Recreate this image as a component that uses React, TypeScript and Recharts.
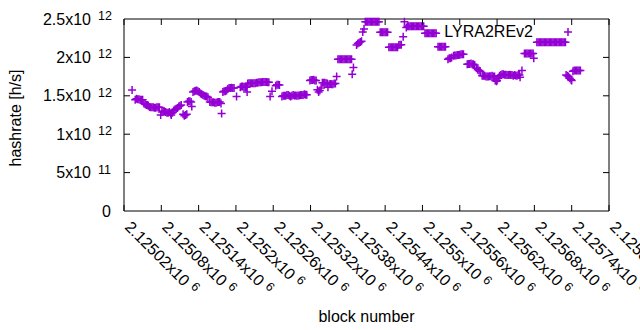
import { ScatterChart, Scatter, XAxis, YAxis, ReferenceArea } from 'recharts'

// [block number, hashrate in 10^12 h/s]
const samples: [number, number][] = [
  [2125033, 1.575],
  [2125038, 1.45], [2125040, 1.46], [2125042, 1.455], [2125044, 1.455], [2125046, 1.45], [2125048, 1.45], [2125050, 1.45],
  [2125052, 1.4], [2125054, 1.39], [2125056, 1.38], [2125058, 1.38], [2125059, 1.37],
  [2125061, 1.355], [2125063, 1.35], [2125065, 1.35], [2125067, 1.35], [2125069, 1.345], [2125071, 1.345], [2125073, 1.35], [2125075, 1.35], [2125077, 1.35],
  [2125079, 1.25], [2125081, 1.29], [2125083, 1.3], [2125085, 1.3], [2125087, 1.29], [2125089, 1.28], [2125091, 1.28], [2125093, 1.29], [2125095, 1.27], [2125096, 1.25], [2125098, 1.28],
  [2125100, 1.31], [2125102, 1.32], [2125104, 1.33], [2125106, 1.34], [2125108, 1.36], [2125110, 1.37], [2125112, 1.38],
  [2125115, 1.26], [2125117, 1.24], [2125119, 1.25], [2125121, 1.26],
  [2125122, 1.42], [2125124, 1.43], [2125126, 1.43], [2125128, 1.42], [2125129, 1.36],
  [2125131, 1.55], [2125133, 1.56], [2125135, 1.565], [2125137, 1.57], [2125139, 1.56], [2125141, 1.55],
  [2125143, 1.53], [2125145, 1.52], [2125147, 1.51], [2125149, 1.5], [2125151, 1.495], [2125153, 1.49], [2125155, 1.48],
  [2125158, 1.42], [2125160, 1.415], [2125162, 1.415], [2125164, 1.415], [2125166, 1.41], [2125168, 1.41], [2125170, 1.415], [2125172, 1.42], [2125174, 1.42],
  [2125176, 1.4], [2125177, 1.27],
  [2125179, 1.55], [2125181, 1.56], [2125183, 1.56], [2125185, 1.57], [2125187, 1.59], [2125189, 1.6], [2125191, 1.6], [2125193, 1.605], [2125195, 1.6], [2125197, 1.6],
  [2125201, 1.49],
  [2125207, 1.61], [2125209, 1.62], [2125211, 1.62], [2125213, 1.61], [2125215, 1.61], [2125217, 1.61], [2125218, 1.55],
  [2125219, 1.66], [2125221, 1.665], [2125223, 1.665], [2125225, 1.665], [2125227, 1.665], [2125229, 1.665],
  [2125231, 1.665], [2125233, 1.67], [2125235, 1.67], [2125237, 1.675], [2125239, 1.675], [2125241, 1.675],
  [2125243, 1.68], [2125245, 1.68], [2125247, 1.68], [2125249, 1.68], [2125251, 1.675], [2125253, 1.675],
  [2125255, 1.49], [2125258, 1.56],
  [2125264, 1.63], [2125266, 1.645], [2125268, 1.645], [2125270, 1.64],
  [2125274, 1.49], [2125276, 1.5], [2125278, 1.5], [2125280, 1.5], [2125282, 1.51], [2125284, 1.51], [2125286, 1.5],
  [2125288, 1.49], [2125290, 1.5], [2125292, 1.51], [2125294, 1.505], [2125296, 1.505], [2125298, 1.5], [2125300, 1.505],
  [2125302, 1.505], [2125304, 1.51], [2125306, 1.51], [2125308, 1.51], [2125310, 1.52], [2125312, 1.515], [2125314, 1.515],
  [2125319, 1.7], [2125321, 1.705], [2125323, 1.705], [2125325, 1.71], [2125327, 1.7], [2125329, 1.7],
  [2125331, 1.58], [2125333, 1.55], [2125335, 1.57], [2125337, 1.6], [2125339, 1.67], [2125341, 1.67], [2125343, 1.67],
  [2125345, 1.665], [2125347, 1.66], [2125348, 1.61], [2125350, 1.65],
  [2125352, 1.655], [2125354, 1.65], [2125356, 1.65], [2125358, 1.66], [2125360, 1.66], [2125362, 1.75],
  [2125364, 1.975], [2125366, 1.975], [2125368, 1.975], [2125370, 1.975], [2125372, 1.975], [2125374, 1.975],
  [2125376, 1.975], [2125378, 1.975], [2125380, 1.975], [2125382, 1.975], [2125384, 1.975], [2125386, 1.975],
  [2125387, 1.78], [2125389, 1.87],
  [2125394, 2.16], [2125396, 2.18], [2125398, 2.19], [2125400, 2.2], [2125402, 2.21], [2125404, 2.33], [2125406, 2.37],
  [2125408, 2.465], [2125410, 2.465], [2125412, 2.465], [2125414, 2.465], [2125416, 2.465], [2125418, 2.465],
  [2125420, 2.465], [2125422, 2.465], [2125424, 2.465], [2125426, 2.465], [2125428, 2.465], [2125430, 2.465],
  [2125432, 2.327], [2125434, 2.327], [2125436, 2.327], [2125438, 2.327], [2125440, 2.327], [2125442, 2.327], [2125444, 2.327],
  [2125446, 2.131], [2125448, 2.131], [2125450, 2.131], [2125452, 2.131], [2125454, 2.131], [2125456, 2.131], [2125458, 2.131], [2125460, 2.131],
  [2125462, 2.16], [2125464, 2.165], [2125466, 2.165], [2125469, 2.27], [2125471, 2.465],
  [2125474, 2.39], [2125476, 2.405], [2125478, 2.405], [2125480, 2.405], [2125482, 2.405], [2125484, 2.405], [2125486, 2.405],
  [2125488, 2.405], [2125490, 2.405], [2125492, 2.405], [2125494, 2.405], [2125496, 2.405], [2125498, 2.405], [2125500, 2.405], [2125502, 2.405],
  [2125504, 2.314], [2125506, 2.314], [2125508, 2.314], [2125510, 2.314], [2125512, 2.314],
  [2125514, 2.314], [2125516, 2.314], [2125518, 2.314], [2125520, 2.314], [2125522, 2.314],
  [2125525, 2.14], [2125527, 2.14], [2125529, 2.14], [2125531, 2.14], [2125533, 2.14], [2125535, 2.14], [2125537, 2.14],
  [2125541, 1.975], [2125543, 1.99], [2125545, 1.99], [2125547, 2.0],
  [2125550, 2.02], [2125552, 2.025], [2125554, 2.025], [2125556, 2.03], [2125558, 2.03], [2125560, 2.035], [2125562, 2.04], [2125564, 2.04], [2125566, 2.04],
  [2125572, 1.91], [2125574, 1.915], [2125576, 1.915], [2125578, 1.92], [2125580, 1.91], [2125582, 1.91], [2125584, 1.9],
  [2125587, 1.86], [2125589, 1.84], [2125591, 1.83], [2125593, 1.82],
  [2125596, 1.76], [2125598, 1.76], [2125600, 1.76], [2125602, 1.75], [2125604, 1.75], [2125606, 1.75],
  [2125608, 1.755], [2125610, 1.755], [2125612, 1.76], [2125614, 1.75], [2125616, 1.75],
  [2125617, 1.7], [2125619, 1.69], [2125620, 1.7],
  [2125622, 1.73], [2125624, 1.76], [2125626, 1.77], [2125628, 1.78], [2125630, 1.78], [2125632, 1.775],
  [2125634, 1.775], [2125636, 1.77], [2125638, 1.77], [2125640, 1.775], [2125642, 1.77], [2125644, 1.77],
  [2125646, 1.76], [2125648, 1.77], [2125650, 1.765], [2125652, 1.76], [2125654, 1.77], [2125656, 1.77], [2125657, 1.74],
  [2125660, 1.83],
  [2125664, 2.05], [2125666, 2.05], [2125668, 2.05], [2125670, 2.05], [2125672, 2.05], [2125674, 2.05], [2125676, 2.05], [2125678, 2.05], [2125679, 1.99],
  [2125684, 2.196], [2125686, 2.196], [2125688, 2.196], [2125690, 2.196], [2125692, 2.196], [2125694, 2.196],
  [2125696, 2.196], [2125698, 2.196], [2125700, 2.196], [2125702, 2.196], [2125704, 2.196], [2125706, 2.196],
  [2125708, 2.196], [2125710, 2.196], [2125712, 2.196], [2125714, 2.196], [2125716, 2.196], [2125718, 2.196],
  [2125720, 2.196], [2125722, 2.196], [2125724, 2.196], [2125726, 2.196], [2125728, 2.196], [2125730, 2.196],
  [2125731, 1.77], [2125733, 1.76], [2125735, 1.75], [2125737, 1.73], [2125739, 1.71], [2125740, 1.7],
  [2125742, 1.82], [2125744, 1.83], [2125746, 1.83], [2125748, 1.83], [2125750, 1.83], [2125752, 1.83], [2125754, 1.83],
]

const xTicks = [2125020, 2125080, 2125140, 2125200, 2125260, 2125320, 2125380, 2125440, 2125500, 2125560, 2125620, 2125680, 2125740, 2125800]
const xTickMantissa = ['2.12502', '2.12508', '2.12514', '2.1252', '2.12526', '2.12532', '2.12538', '2.12544', '2.1255', '2.12556', '2.12562', '2.12568', '2.12574', '2.1258']
const yTicks = [0, 0.5, 1, 1.5, 2, 2.5]
const yTickLabels: [string, string][] = [['0', ''], ['5x10', '11'], ['1x10', '12'], ['1.5x10', '12'], ['2x10', '12'], ['2.5x10', '12']]

const seriesName = 'LYRA2REv2'
const PURPLE = '#9400d3'
const FONT = '"Liberation Sans", Arial, sans-serif'
const FS = 16
const SUP_FS = 12.5
const PLOT_W = 485
const PLOT_H = 192
const TICK = 6

// rough Liberation Sans advance widths (em) for the tick label glyphs
const glyphEm: Record<string, number> = { '.': 0.278, x: 0.5 }
const textWidth = (s: string, fs: number) => s.split('').reduce((w, c) => w + (glyphEm[c] ?? 0.556), 0) * fs

const data = samples.map(([block, hashrate]) => ({ block, hashrate }))

function Plus({ cx, cy }: { cx: number; cy: number }) {
  return <path d={`M${cx - 4},${cy}h8M${cx},${cy - 4}v8`} stroke={PURPLE} strokeWidth={1.5} fill="none" />
}

function XTick({ x, y, payload }: any) {
  const i = xTicks.indexOf(payload.value)
  const ty = y + 17
  return (
    <g>
      <line x1={x} y1={y} x2={x} y2={y - TICK} stroke="#000" />
      <line x1={x} y1={y - PLOT_H} x2={x} y2={y - PLOT_H + TICK} stroke="#000" />
      <text x={x} y={ty} transform={`rotate(45 ${x} ${ty})`} fontSize={FS} fontFamily={FONT} fill="#000">
        {xTickMantissa[i]}x10
        <tspan dx={5} dy={-5} fontSize={SUP_FS}>6</tspan>
      </text>
    </g>
  )
}

function YTick({ x, y, payload }: any) {
  const i = yTicks.indexOf(payload.value)
  const [base, exp] = yTickLabels[i]
  const baseEnd = exp ? x - 33 : x - 13
  return (
    <g>
      {i > 0 && i < yTicks.length - 1 && (
        <>
          <line x1={x} y1={y} x2={x + TICK} y2={y} stroke="#000" />
          <line x1={x + PLOT_W} y1={y} x2={x + PLOT_W - TICK} y2={y} stroke="#000" />
        </>
      )}
      <text x={baseEnd - textWidth(base, FS)} y={y + 5.5} fontSize={FS} fontFamily={FONT} fill="#000">
        {base}
      </text>
      {exp && (
        <text x={x - 26} y={y + 1} fontSize={SUP_FS} fontFamily={FONT} fill="#000">
          {exp}
        </text>
      )}
    </g>
  )
}

export default function App() {
  return (
    <div style={{ position: 'absolute', left: 0, top: 0, width: 640, height: 330, background: '#fff' }}>
      <ScatterChart width={640} height={330} margin={{ top: 19, right: 31, bottom: 0, left: 0 }}>
        <XAxis
          dataKey="block"
          type="number"
          domain={[2125020, 2125800]}
          ticks={xTicks}
          interval={0}
          height={119}
          axisLine={false}
          tickLine={false}
          tickSize={0}
          tickMargin={0}
          tick={<XTick />}
          label={{
            content: ({ viewBox }: any) => (
              <text x={viewBox.x + viewBox.width / 2} y={322} textAnchor="middle" fontSize={FS} fontFamily={FONT} fill="#000">
                block number
              </text>
            ),
          }}
        />
        <YAxis
          dataKey="hashrate"
          type="number"
          domain={[0, 2.5]}
          ticks={yTicks}
          interval={0}
          width={124}
          axisLine={false}
          tickLine={false}
          tickSize={0}
          tickMargin={0}
          tick={<YTick />}
          label={{
            content: ({ viewBox }: any) => {
              const cy = viewBox.y + viewBox.height / 2 + 3
              return (
                <text x={21} y={cy} transform={`rotate(-90 21 ${cy})`} textAnchor="middle" fontSize={FS} fontFamily={FONT} fill="#000">
                  hashrate [h/s]
                </text>
              )
            },
          }}
        />
        <ReferenceArea x1={2125020} x2={2125800} y1={0} y2={2.5} fill="none" stroke="#000" strokeWidth={1} fillOpacity={0} />
        <Scatter
          name={seriesName}
          data={data}
          fill={PURPLE}
          isAnimationActive={false}
          shape={(p: any) => <Plus cx={p.cx} cy={p.cy} />}
        />
      </ScatterChart>
      <svg width={640} height={330} style={{ position: 'absolute', left: 0, top: 0, pointerEvents: 'none' }}>
        <text x={533} y={37} textAnchor="end" fontSize={FS} fontFamily={FONT} fill="#000">
          {seriesName}
        </text>
        <Plus cx={568} cy={32} />
      </svg>
    </div>
  )
}
